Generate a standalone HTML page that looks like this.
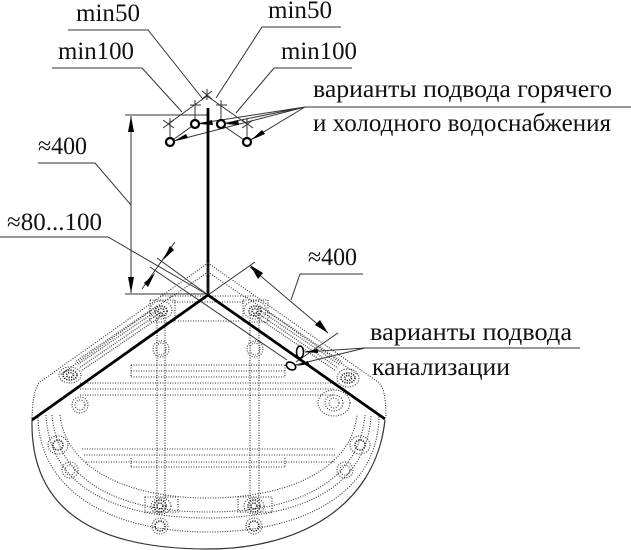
<!DOCTYPE html>
<html><head><meta charset="utf-8"><style>
html,body{margin:0;padding:0;background:#fff;width:631px;height:550px;overflow:hidden}
svg{display:block}
text{font-family:"Liberation Serif",serif;fill:#111;font-size:25px}
.l{fill:none;stroke:#333;stroke-width:1}
.h{fill:none;stroke:#000;stroke-width:2.8}
.d{fill:none;stroke:#333;stroke-width:1.1;stroke-dasharray:1 1.5}
.b{fill:none;stroke:#555;stroke-width:1.4;stroke-dasharray:1 1.2}
.a{fill:#000;stroke:none}
.c{fill:#fff;stroke:#000;stroke-width:2.2}
.k{fill:none;stroke:#222;stroke-width:1.6;stroke-dasharray:1.2 1.2}
</style></head><body>
<svg width="631" height="550" viewBox="0 0 631 550" xmlns="http://www.w3.org/2000/svg">
<!-- labels -->
<text x="76" y="21" textLength="64" lengthAdjust="spacingAndGlyphs">min50</text>
<text x="268" y="18" textLength="64" lengthAdjust="spacingAndGlyphs">min50</text>
<text x="58" y="59" textLength="76" lengthAdjust="spacingAndGlyphs">min100</text>
<text x="281" y="59" textLength="76" lengthAdjust="spacingAndGlyphs">min100</text>
<text x="313" y="97" textLength="299" lengthAdjust="spacingAndGlyphs">варианты подвода горячего</text>
<text x="313" y="131" textLength="298" lengthAdjust="spacingAndGlyphs">и холодного водоснабжения</text>
<text x="38" y="154" textLength="49" lengthAdjust="spacingAndGlyphs">≈400</text>
<text x="7" y="230" textLength="95" lengthAdjust="spacingAndGlyphs">≈80...100</text>
<text x="308" y="265" textLength="49" lengthAdjust="spacingAndGlyphs">≈400</text>
<text x="370" y="340" textLength="202" lengthAdjust="spacingAndGlyphs">варианты подвода</text>
<text x="372" y="375" textLength="138" lengthAdjust="spacingAndGlyphs">канализации</text>

<!-- leaders -->
<path class="l" d="M68 30H148L202 98M341 27H262L216 98M52 68H142L182 112M352 68H274L236 113"/>
<path class="l" d="M305 107H631M305 107L195 124M305 107L221 124M305 107L170 142M305 107L247 142"/>
<path class="l" d="M38 163H95L131 205M0 237H108L208 295M363 274H300L291 300"/>
<path class="l" d="M365 348H580M365 348L305 352M365 348L295 365"/>

<!-- top piping scheme -->
<path class="l" d="M207 96L168 124M207 96L247 124M170 142L195 124M247 142L221 124M170 142V118M247 142V118M195 124V100M221 124V100"/>
<path class="l" d="M202 91L212 99M212 91L202 99M207 89V100M163 120L174 128M163 128L174 120M190 105H201M216 105H227M242 120L253 128M242 128L253 120"/>
<path class="l" d="M125 115H208"/>
<path class="h" d="M208 108V295"/>
<circle class="c" cx="170" cy="142" r="4"/>
<circle class="c" cx="195" cy="124" r="4"/>
<circle class="c" cx="221" cy="124" r="4"/>
<circle class="c" cx="247" cy="142" r="4"/>
<path class="a" d="M199 124L212 120L213 125ZM225 124L238 120L239 125ZM174 141L186 134L188 138ZM251 140L262 130L265 134Z"/>

<!-- 400 vertical dimension -->
<path class="l" d="M131 116V293M125 294H207"/>
<path class="a" d="M131 116L128 132H134ZM131 293L128 277H134Z"/>

<!-- 80..100 dimension -->
<path class="l" d="M157 258L208 295M150 267L287 360M175 242L142 289"/>
<path class="a" d="M163 260L170 246L174 250ZM155 273L148 287L144 283Z"/>

<!-- 400 diagonal dimension -->
<path class="l" d="M208 295L255 262M338 333L296 362M250 267L328 333"/>
<path class="a" d="M250 265L263 273L258 279ZM328 333L315 325L320 320Z"/>

<!-- dotted body: diagonal edges -->
<path class="d" d="M208 263L40 382C36 386 33 393 32 418M208 263L378 382C383 386 386 395 386 418"/>
<path class="d" d="M208 263V295M208 272L170 298M208 272L246 298"/>
<!-- dense bands parallel to walls -->
<path class="b" d="M157 306L75 362M159 309L77 365M161 312L79 368M163 315L81 371"/>
<path class="b" d="M260 306L342 362M258 309L340 365M256 312L338 368M254 315L336 371"/>
<path class="d" d="M172 296L60 375M245 296L358 375"/>
<!-- arcs -->
<path class="d" d="M60 415C66 470 130 498 208 498C287 498 351 470 357 415"/>
<path class="d" d="M52 415C58 485 125 512 208 512C292 512 359 485 365 415"/>
<path class="d" d="M46 415C50 490 120 518 208 518C297 518 367 490 371 415"/>
<path class="d" d="M38 415C38 490 110 532 208 532C307 532 379 490 379 415"/>
<!-- horizontal bands -->
<path class="d" d="M131 365H285M131 371H285M131 377H285M131 365V377M285 365V377"/>
<path class="d" d="M80 383H335M80 389H335M80 395H335"/>
<path class="d" d="M82 449H335M84 455H335M86 462H335M131 467H285M131 458V467M285 458V467"/>
<path class="d" d="M160 296H255M172 302H245M178 321H240"/>
<!-- vertical bands -->
<path class="d" d="M157 315V510M165 315V510M250 315V510M259 315V510"/>
<!-- clusters -->
<g class="k">
<ellipse cx="161" cy="311" rx="6" ry="5"/><ellipse cx="161" cy="311" rx="3" ry="2.5"/>
<ellipse cx="255" cy="311" rx="6" ry="5"/><ellipse cx="255" cy="311" rx="3" ry="2.5"/>
<ellipse cx="70" cy="375" rx="7" ry="5"/><ellipse cx="70" cy="375" rx="3.5" ry="2.5"/>
<ellipse cx="348" cy="378" rx="7" ry="5"/><ellipse cx="348" cy="378" rx="3.5" ry="2.5"/>
<ellipse cx="58" cy="445" rx="5" ry="5"/><ellipse cx="360" cy="445" rx="5" ry="5"/>
<ellipse cx="160" cy="506" rx="6" ry="6"/><ellipse cx="160" cy="506" rx="3" ry="3"/>
<ellipse cx="254" cy="506" rx="6" ry="6"/><ellipse cx="254" cy="506" rx="3" ry="3"/>
<ellipse cx="160" cy="526" rx="5" ry="5"/><ellipse cx="254" cy="526" rx="5" ry="5"/>
</g>
<g class="d">
<ellipse cx="161" cy="310" rx="11" ry="9"/><path d="M150 300H175V322H150Z"/>
<ellipse cx="255" cy="310" rx="11" ry="9"/><path d="M243 300H268V322H243Z"/>
<ellipse cx="161" cy="349" rx="8" ry="8"/><ellipse cx="161" cy="349" rx="5" ry="6"/>
<ellipse cx="255" cy="349" rx="8" ry="8"/><ellipse cx="255" cy="349" rx="5" ry="6"/>
<ellipse cx="70" cy="375" rx="11" ry="8"/>
<ellipse cx="348" cy="378" rx="11" ry="9"/>
<ellipse cx="80" cy="405" rx="8" ry="8"/><ellipse cx="80" cy="405" rx="5" ry="5"/>
<ellipse cx="334" cy="403" rx="16" ry="13"/><ellipse cx="334" cy="403" rx="9" ry="8"/><ellipse cx="334" cy="403" rx="5" ry="5"/>
<ellipse cx="58" cy="445" rx="10" ry="9"/>
<ellipse cx="360" cy="445" rx="10" ry="9"/>
<ellipse cx="70" cy="470" rx="8" ry="8"/><ellipse cx="70" cy="470" rx="5" ry="5"/>
<ellipse cx="345" cy="470" rx="8" ry="8"/><ellipse cx="345" cy="470" rx="5" ry="5"/>
<ellipse cx="161" cy="506" rx="10" ry="8"/><path d="M145 497H178V512H145Z"/>
<ellipse cx="254" cy="506" rx="10" ry="8"/><path d="M238 497H272V512H238Z"/>
<ellipse cx="160" cy="526" rx="8" ry="8"/>
<ellipse cx="254" cy="526" rx="8" ry="8"/>
</g>

<!-- outer curve and thick walls -->
<path d="M32 420C30 520 110 549 208 549C295 549 375 510 385 420" fill="none" stroke="#333" stroke-width="1.2"/>
<path class="h" d="M208 295L32 420M208 295L385 419"/>

<!-- drain -->
<ellipse cx="300" cy="352" rx="3.5" ry="6" fill="#fff" stroke="#000" stroke-width="1.6"/>
<ellipse cx="291" cy="366" rx="5" ry="3.5" transform="rotate(30 291 366)" fill="#fff" stroke="#000" stroke-width="1.6"/>
<path class="a" d="M304 352L318 349V353ZM296 366L308 361L309 364Z"/>
</svg>
</body></html>
